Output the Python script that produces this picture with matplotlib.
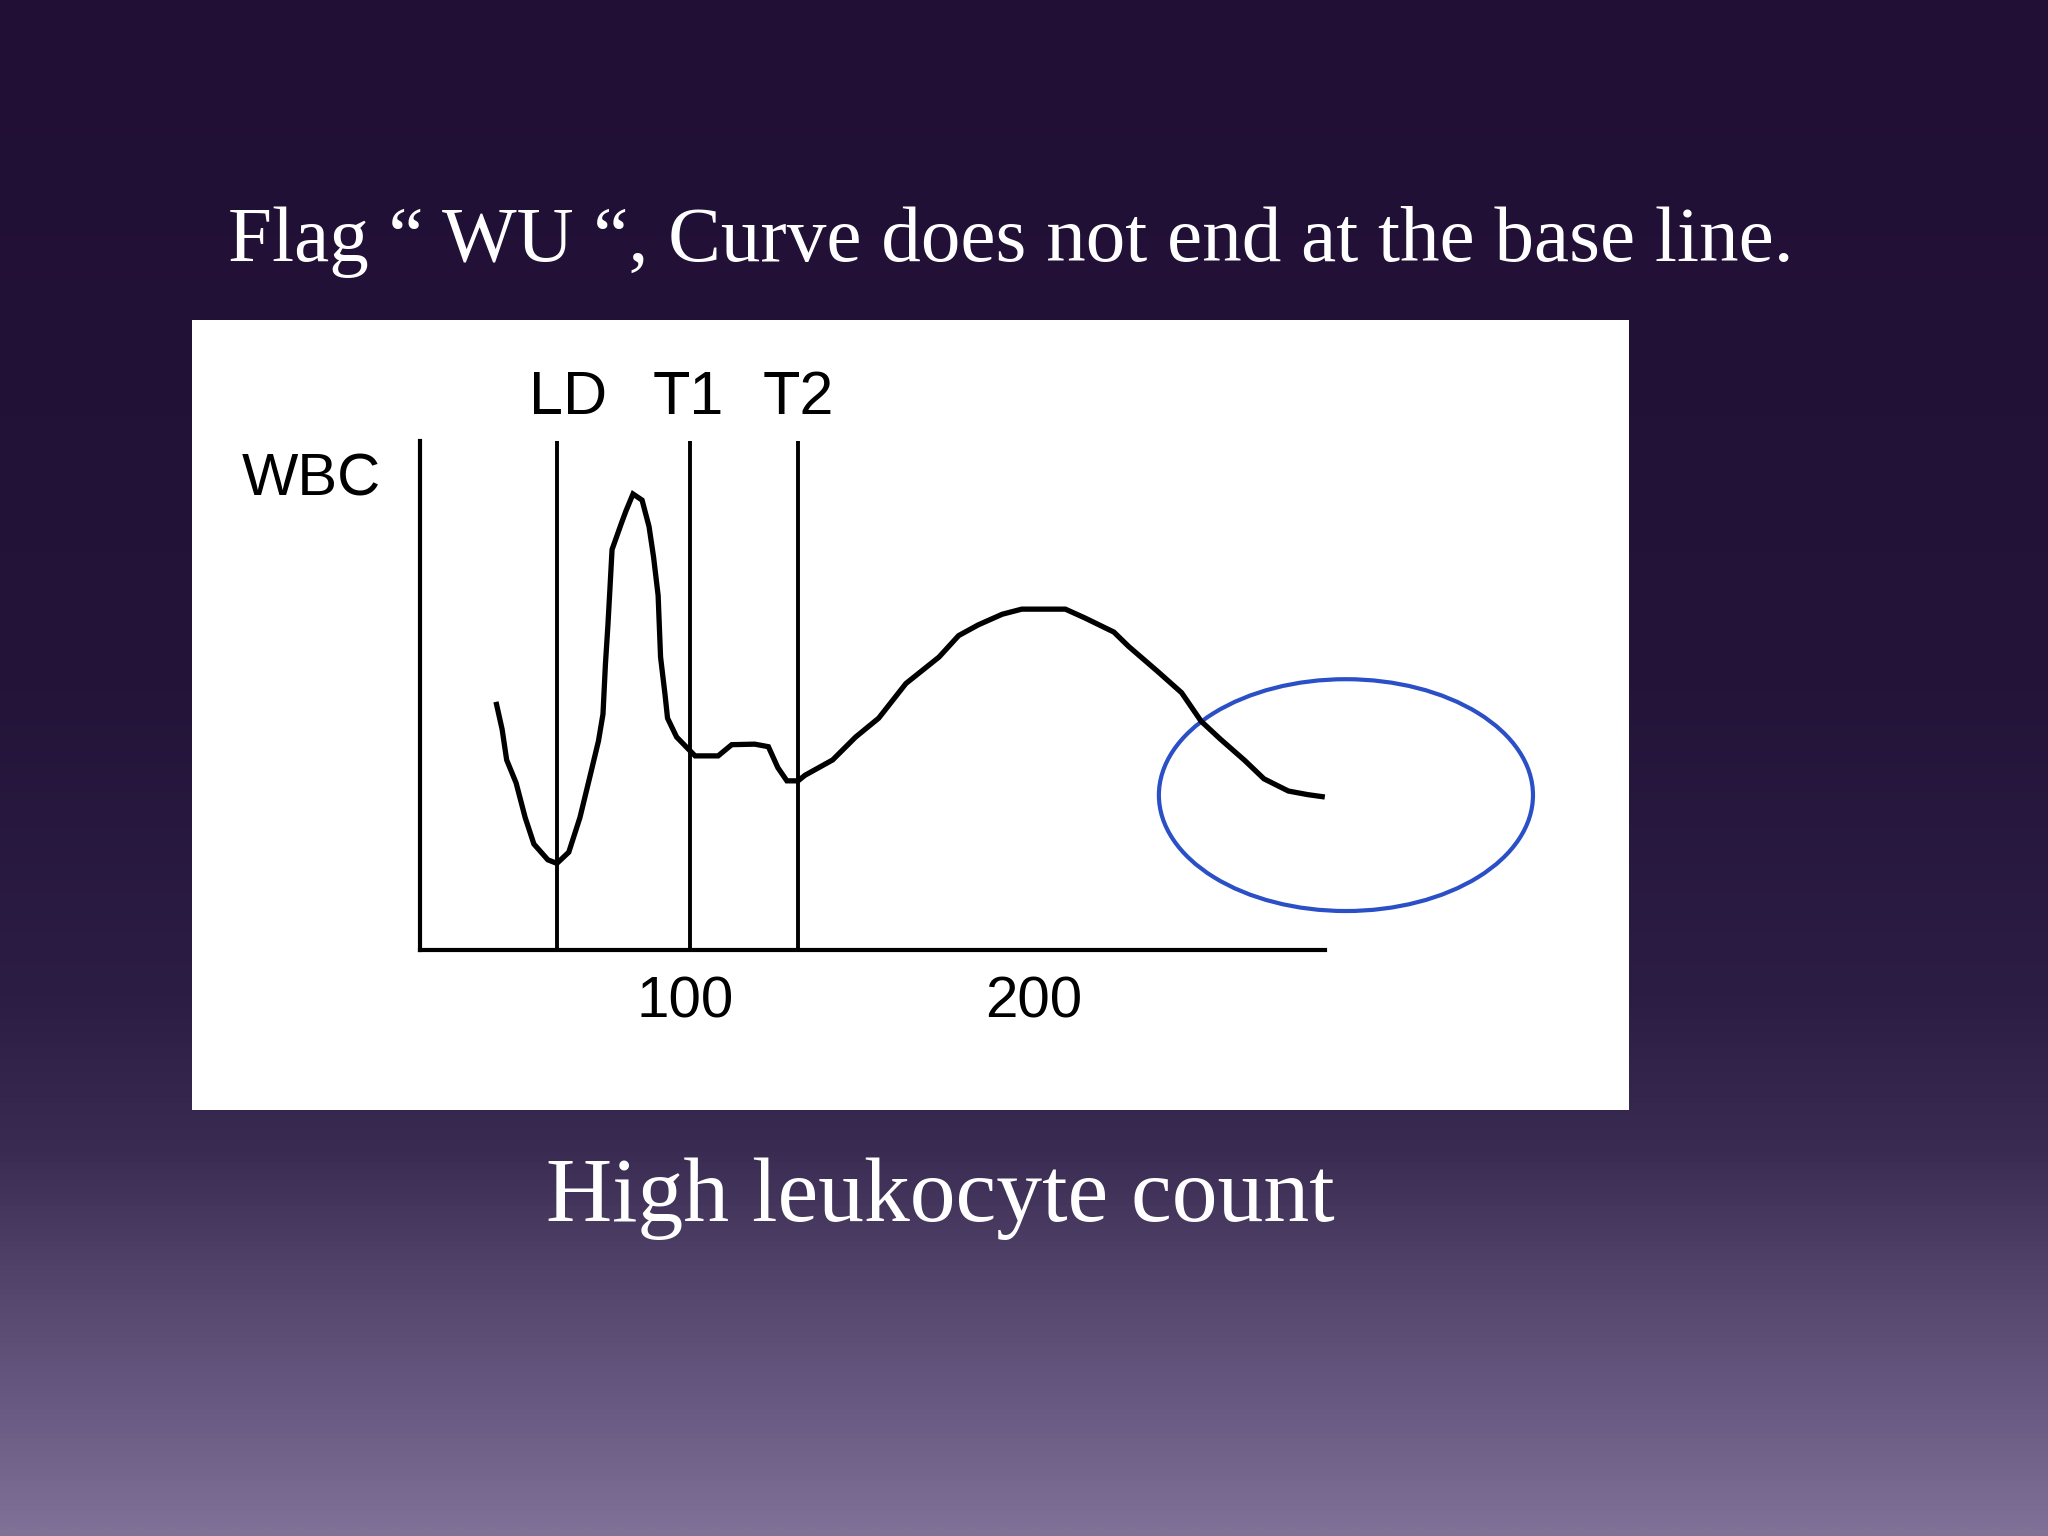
import numpy as np
import matplotlib
matplotlib.use("Agg")
import matplotlib.pyplot as plt
from matplotlib.patches import Rectangle, Ellipse
from matplotlib.colors import LinearSegmentedColormap

# ---------------- data ----------------
title_text = "Flag \u201c WU \u201c, Curve does not end at the base line."
caption_text = "High leukocyte count"
y_label = "WBC"

# histogram curve: cell volume (fL) vs relative count
curve_x = [46.0, 47.6, 48.9, 51.6, 54.2, 56.7, 60.7, 63.3, 66.7, 69.9, 72.6, 75.2,
           76.5, 77.2, 77.9, 78.5, 79.1, 81.8, 83.1, 85.1, 87.7, 89.7, 91.0, 92.3,
           93.0, 94.3, 95.0, 97.6, 101.3, 102.9, 109.5, 113.4, 120.0, 123.9, 126.6,
           129.2, 132.4, 134.4, 142.3, 148.9, 155.5, 163.3, 172.8, 178.4, 184.0,
           190.9, 196.5, 209.0, 214.5, 222.9, 227.1, 235.4, 242.3, 247.9, 253.4,
           260.4, 265.9, 272.9, 278.4, 282.6]
curve_y = [48.2, 43.3, 37.3, 32.8, 26.0, 20.8, 17.7, 17.0, 19.2, 26.0, 33.6, 41.0,
           46.3, 56.1, 63.6, 71.0, 78.6, 83.8, 86.2, 89.5, 88.3, 83.1, 77.1, 69.6,
           57.5, 50.0, 45.5, 41.8, 39.2, 38.1, 38.1, 40.3, 40.4, 39.9, 35.8,
           33.2, 33.2, 34.3, 37.3, 41.8, 45.5, 52.3, 57.5, 61.7, 63.8,
           65.9, 66.9, 66.9, 65.2, 62.4, 59.6, 54.7, 50.5, 44.9, 41.4,
           37.2, 33.6, 31.2, 30.5, 30.1]

# discriminator lines
disc_names = ["LD", "T1", "T2"]
disc_x = [63.3, 101.3, 132.4]
disc_label_x = [66.5, 100.9, 132.4]

tick_vals = [100, 200]
tick_labels = ["100", "200"]

x_range = (23.95, 283.4)
y_range = (0, 100)

# highlighted region (ellipse): center x, center y, width, height
hl_center = (289.4, 30.4)
hl_size = (107.2, 45.5)

# ---------------- figure ----------------
W, H = 2048, 1536
fig = plt.figure(figsize=(W / 100, H / 100), dpi=100)

# background gradient
bg = fig.add_axes([0, 0, 1, 1], zorder=-10)
stops = [(0.0, "#210f35"), (0.45, "#24143a"), (0.65, "#2c1d45"), (0.75, "#3a2b52"),
         (0.85, "#574870"), (0.93, "#6c5d86"), (1.0, "#807197")]
cmap = LinearSegmentedColormap.from_list("bg", stops)
grad = np.linspace(0, 1, 512).reshape(-1, 1)
bg.imshow(grad, cmap=cmap, aspect="auto", extent=[0, 1, 1, 0], interpolation="bilinear")
bg.set_xlim(0, 1)
bg.set_ylim(1, 0)
bg.axis("off")

# white panel
fig.add_artist(Rectangle((192 / W, 1 - 1110 / H), 1437 / W, 790 / H,
                         transform=fig.transFigure, facecolor="white",
                         edgecolor="none", zorder=-5))

# title and caption
fig.text(228 / W, 1 - 261 / H, title_text, color="white", fontsize=57,
         family="Liberation Serif", ha="left", va="baseline")
fig.text(940 / W, 1 - 1221 / H, caption_text, color="white", fontsize=66,
         family="Liberation Serif", ha="center", va="baseline")

# data axes
ax = fig.add_axes([419.6 / W, 1 - 950 / H, (1325 - 419.6) / W, (950 - 440.5) / H])
ax.patch.set_alpha(0)
ax.set_xlim(*x_range)
ax.set_ylim(*y_range)
for s in ["top", "right"]:
    ax.spines[s].set_visible(False)
for s in ["left", "bottom"]:
    ax.spines[s].set_linewidth(3.0)
    ax.spines[s].set_color("black")
ax.set_yticks([])
ax.set_xticks(tick_vals)
ax.set_xticklabels(tick_labels, family="Liberation Sans", fontsize=42)
ax.tick_params(axis="x", length=0, pad=18)

for name, xv, lx in zip(disc_names, disc_x, disc_label_x):
    ax.axvline(xv, color="black", lw=2.8)
    ax.text(lx, 108.3, name, ha="center", va="center", fontsize=44,
            family="Liberation Sans", color="black", clip_on=False)

ax.text(-7.2, 92.2, y_label, ha="center", va="center", fontsize=43,
        family="Liberation Sans", color="black", clip_on=False)

ax.plot(curve_x, curve_y, color="black", lw=3.8, solid_joinstyle="miter",
        solid_capstyle="projecting", clip_on=False)

ax.add_patch(Ellipse(hl_center, hl_size[0], hl_size[1], fill=False,
                     edgecolor="#2b4fc6", lw=3.0, clip_on=False))

fig.savefig("out.png", dpi=100)
